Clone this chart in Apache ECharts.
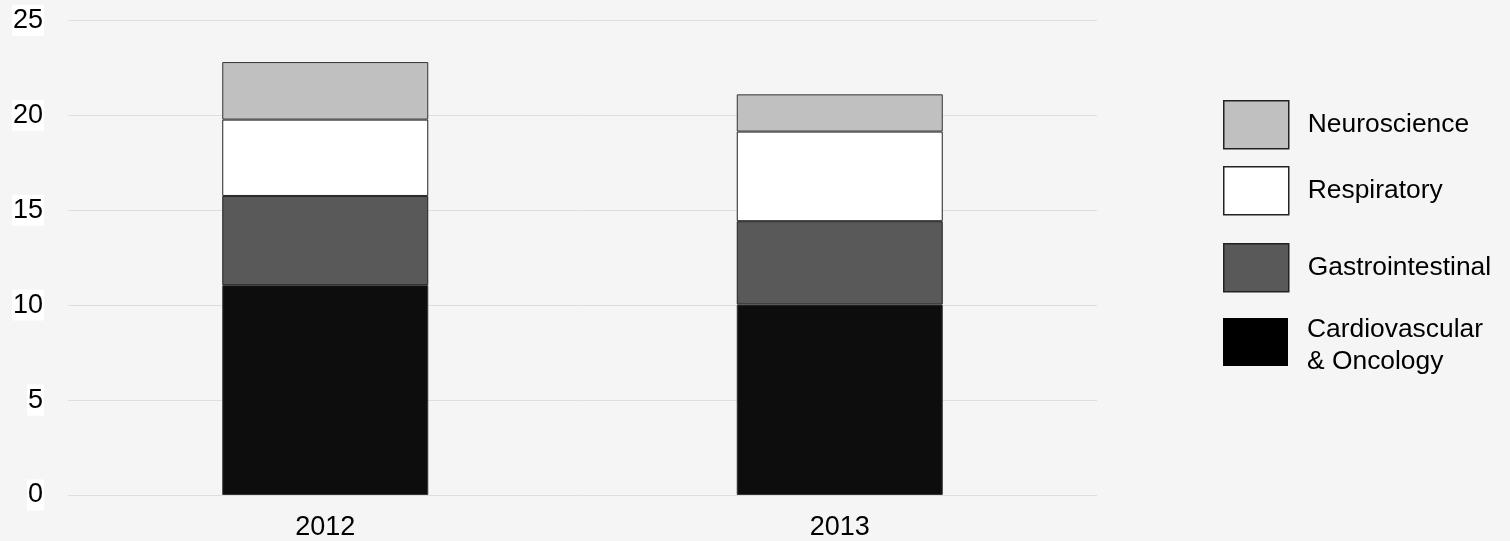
<!DOCTYPE html>
<html>
<head>
<meta charset="utf-8">
<script src="https://cdn.jsdelivr.net/npm/echarts@6/dist/echarts.min.js"></script>
<style>
html,body{margin:0;padding:0;background:#f5f5f5;}
#chart{width:1510px;height:541px;}
</style>
</head>
<body>
<div id="chart"></div>
<script>
const categories = ['2012', '2013'];
const cardiovascular = [11.05, 10.03];
const gastrointestinal = [4.70, 4.39];
const respiratory = [4.02, 4.72];
const neuroscience = [3.03, 1.96];
const yTicks = [0, 5, 10, 15, 20, 25];

const FONT = '"Liberation Sans", Arial, sans-serif';
const FS = 27;
const LFS = 26.4;
const chart = echarts.init(document.getElementById('chart'), null, {renderer: 'canvas'});

function barSeries(name, data, color, border) {
  return {
    name: name,
    type: 'bar',
    stack: 'total',
    barWidth: 206,
    data: data,
    itemStyle: {color: color, borderColor: border, borderWidth: 1},
    emphasis: {disabled: true}
  };
}

function legendAt(name, top, itemStyle, extra) {
  const lg = {
    orient: 'vertical',
    left: 1223,
    top: top,
    padding: 0,
    itemWidth: 65,
    itemHeight: 48,
    itemGap: 0,
    icon: 'rect',
    selectedMode: false,
    textStyle: {fontFamily: FONT, fontSize: LFS, color: '#000', padding: [0, 0, 0, 14], lineHeight: 32},
    data: [{name: name, itemStyle: itemStyle}]
  };
  return Object.assign(lg, extra || {});
}

const richLine = (lh) => ({fontFamily: FONT, fontSize: LFS, color: '#000', lineHeight: lh});

chart.setOption({
  backgroundColor: '#f5f5f5',
  animation: false,
  grid: {left: 68, right: 413, top: 20.3, bottom: 45.5, containLabel: false},
  legend: [
    legendAt('Neuroscience', 100, {borderColor: '#222', borderWidth: 1.5}),
    legendAt('Respiratory', 166, {borderColor: '#222', borderWidth: 1.5}),
    legendAt('Gastrointestinal', 243, {borderColor: '#222', borderWidth: 1.5}),
    legendAt('Cardiovascular\n& Oncology', 317, {borderWidth: 0, color: '#000'}, {
      formatter: (name) => {
        const parts = name.split('\n');
        return '{l1|' + parts[0] + '}\n{l2|' + parts[1] + '}';
      },
      textStyle: {
        fontFamily: FONT, fontSize: LFS, color: '#000', padding: [0, 0, 0, 14],
        rich: {l1: richLine(40), l2: richLine(24)}
      }
    })
  ],
  xAxis: {
    type: 'category',
    data: categories,
    axisLine: {show: false},
    axisTick: {show: false},
    axisLabel: {fontFamily: FONT, fontSize: FS, color: '#000', margin: 19}
  },
  yAxis: {
    type: 'value',
    min: yTicks[0],
    max: yTicks[yTicks.length - 1],
    interval: 5,
    axisLine: {show: false},
    axisTick: {show: false},
    splitLine: {lineStyle: {color: '#dedede', width: 1}},
    axisLabel: {
      fontFamily: FONT, fontSize: FS, color: '#000', margin: 24,
      backgroundColor: '#fff', padding: [2, 1, 2, 1]
    }
  },
  series: [
    barSeries('Cardiovascular\n& Oncology', cardiovascular, '#0d0d0d', '#333'),
    barSeries('Gastrointestinal', gastrointestinal, '#595959', '#222'),
    barSeries('Respiratory', respiratory, '#ffffff', '#222'),
    barSeries('Neuroscience', neuroscience, '#c0c0c0', '#333')
  ]
});
</script>
</body>
</html>
